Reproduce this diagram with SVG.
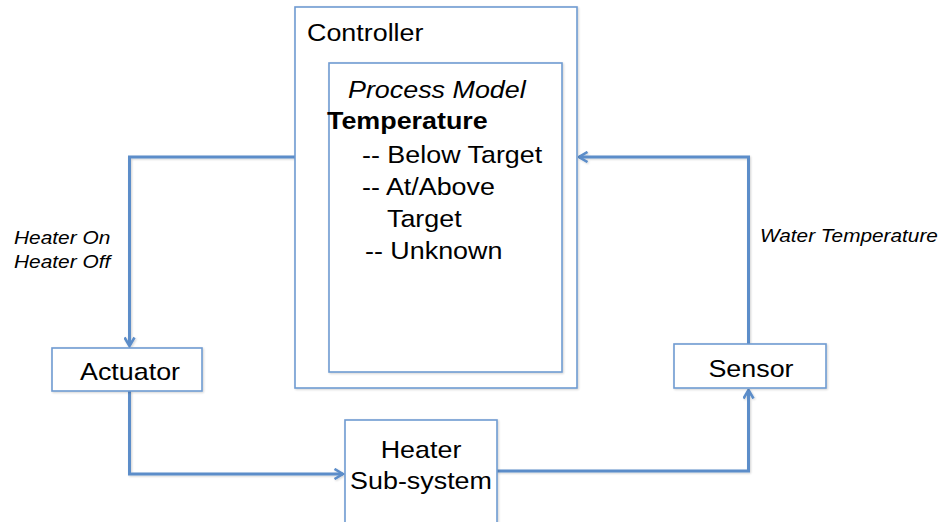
<svg xmlns="http://www.w3.org/2000/svg" width="944" height="522" viewBox="0 0 944 522">
  <defs>
    <style>
      .box { fill: #ffffff; stroke: #6f9bd1; stroke-width: 1.6; filter: url(#shade); }
      .wire { fill: none; stroke: #5b8dc9; stroke-width: 3; stroke-linejoin: miter; filter: url(#shade); }
      .t { font-family: "Liberation Sans", Arial, sans-serif; font-size: 24px; fill: #000000; }
      .it { font-style: italic; }
      .b { font-weight: bold; }
      .sm { font-size: 18px; }
      .mid { text-anchor: middle; }
    </style>
    <filter id="shade" x="-10%" y="-10%" width="120%" height="120%">
      <feGaussianBlur in="SourceAlpha" stdDeviation="1.2"/>
      <feOffset dx="0.6" dy="1.2" result="blur"/>
      <feComponentTransfer><feFuncA type="linear" slope="0.18"/></feComponentTransfer>
      <feMerge><feMergeNode/><feMergeNode in="SourceGraphic"/></feMerge>
    </filter>
    <marker id="arrow" viewBox="0 0 12 12" refX="10.5" refY="6" markerWidth="12" markerHeight="12" markerUnits="userSpaceOnUse" orient="auto">
      <path d="M2,1 L10.5,6 L2,11" fill="none" stroke="#5b8dc9" stroke-width="2.6" stroke-linejoin="miter"/>
    </marker>
  </defs>

  <rect width="944" height="522" fill="#ffffff"/>

  <!-- feedback loop wiring -->
  <g id="connectors">
    <path class="wire" d="M295,157 H129.5 V346" marker-end="url(#arrow)"/>
    <path class="wire" d="M129.5,391 V474 H343" marker-end="url(#arrow)"/>
    <path class="wire" d="M497,471 H748.5 V390" marker-end="url(#arrow)"/>
    <path class="wire" d="M748.5,344 V157 H579" marker-end="url(#arrow)"/>
    <text class="t it sm" transform="translate(14 244) scale(1.16 1)">Heater On</text>
    <text class="t it sm" transform="translate(14 268) scale(1.16 1)">Heater Off</text>
    <text class="t it sm" transform="translate(760 242) scale(1.155 1)">Water Temperature</text>
  </g>

  <g id="controller">
    <rect class="box" x="295" y="7" width="282" height="381"/>
    <text class="t" transform="translate(307 41) scale(1.12 1)">Controller</text>
  </g>

  <g id="process-model">
    <rect class="box" x="329" y="63" width="233" height="309"/>
    <text class="t it" transform="translate(348 98) scale(1.12 1)">Process Model</text>
    <text class="t b" transform="translate(327 129) scale(1.12 1)">Temperature</text>
    <text class="t" transform="translate(362 163) scale(1.12 1)">-- Below Target</text>
    <text class="t" transform="translate(362 195) scale(1.12 1)">-- At/Above</text>
    <text class="t" transform="translate(387 227) scale(1.12 1)">Target</text>
    <text class="t" transform="translate(365 259) scale(1.12 1)">-- Unknown</text>
  </g>

  <g id="actuator">
    <rect class="box" x="52" y="348" width="150" height="43"/>
    <text class="t mid" transform="translate(130 380) scale(1.12 1)">Actuator</text>
  </g>

  <g id="heater-subsystem">
    <rect class="box" x="345" y="420" width="152" height="110"/>
    <text class="t mid" transform="translate(421 458) scale(1.12 1)">Heater</text>
    <text class="t mid" transform="translate(421 489) scale(1.12 1)">Sub-system</text>
  </g>

  <g id="sensor">
    <rect class="box" x="674" y="344" width="152" height="44"/>
    <text class="t mid" transform="translate(751 377) scale(1.12 1)">Sensor</text>
  </g>
</svg>
